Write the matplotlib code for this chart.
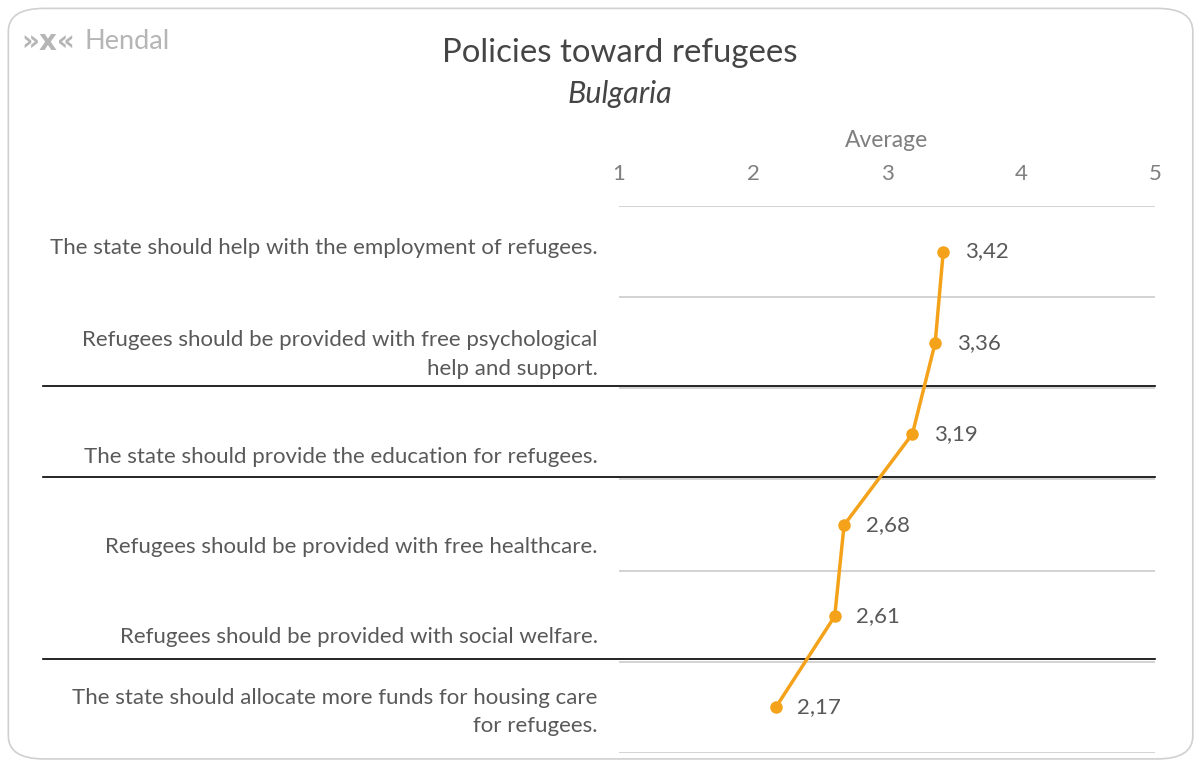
import numpy as np
import matplotlib.pyplot as plt
from matplotlib.patches import FancyBboxPatch

plt.rcParams['font.family'] = ['Lato', 'DejaVu Sans']

statements = [
    "The state should help with the employment of refugees.",
    "Refugees should be provided with free psychological\nhelp and support.",
    "The state should provide the education for refugees.",
    "Refugees should be provided with free healthcare.",
    "Refugees should be provided with social welfare.",
    "The state should allocate more funds for housing care\nfor refugees.",
]
averages = [3.42, 3.36, 3.19, 2.68, 2.61, 2.17]
xticks = [1, 2, 3, 4, 5]
# label vertical placement inside each row (as in the original layout)
label_y = [0.46, 1.63, 2.75, 3.74, 4.73, 5.55]
separators = [2, 3, 5]

orange = '#F5A21B'
grey_text = '#595959'
light_text = '#7f7f7f'

fig = plt.figure(figsize=(11.94, 7.62), dpi=100)

# rounded card border
card = FancyBboxPatch((0.007, 0.004), 0.992, 0.985,
                      boxstyle="round,pad=0,rounding_size=0.03",
                      transform=fig.transFigure, fill=False,
                      edgecolor='#d0d0d0', linewidth=1.2)
fig.patches.append(card)

# logo
fig.text(0.018, 0.945, "»x«", fontsize=20, fontweight='bold', color='#b5b5b5',
         va='center', ha='left', family='DejaVu Sans')
fig.text(0.071, 0.945, "Hendal", fontsize=19.5, color='#b5b5b5', va='center', ha='left')

# titles
fig.text(0.519, 0.931, "Policies toward refugees", fontsize=23.8, color='#454545',
         ha='center', va='center')
fig.text(0.519, 0.877, "Bulgaria", fontsize=22, style='italic', color='#454545',
         ha='center', va='center')

ax = fig.add_axes([0.5184, 0.0118, 0.4489, 0.7179])
ys = np.arange(len(averages)) + 0.5

ax.plot(averages, ys, color=orange, linewidth=2.5, marker='o', markersize=8, zorder=3)
for v, y in zip(averages, ys):
    ax.text(v + 0.16, y, f"{v:.2f}".replace('.', ','), fontsize=16,
            color=grey_text, va='center', ha='left')

ax.set_xlim(1, 5)
ax.set_ylim(len(averages), 0)
ax.set_xticks(xticks)
ax.xaxis.tick_top()
ax.tick_params(axis='x', length=0, pad=16, labelsize=16, labelcolor=light_text)
ax.set_yticks([])
ax.xaxis.set_label_position('top')
ax.set_xlabel("Average", fontsize=16.5, color=light_text, labelpad=12)
for s in ax.spines.values():
    s.set_visible(False)

for b in range(len(averages) + 1):
    ax.axhline(b, color='#d0d0d0', linewidth=1.3, zorder=1)

for b in separators:
    ax.plot([-1.075, 1.0], [b - 0.03, b - 0.03], color='black', linewidth=1.2,
            transform=ax.get_yaxis_transform(), clip_on=False, zorder=2)

for lab, y in zip(statements, label_y):
    ax.text(-0.04, y, lab, transform=ax.get_yaxis_transform(), ha='right',
            va='center', fontsize=16, color=grey_text, linespacing=1.55,
            multialignment='right')

fig.savefig('out.png', dpi=100)
